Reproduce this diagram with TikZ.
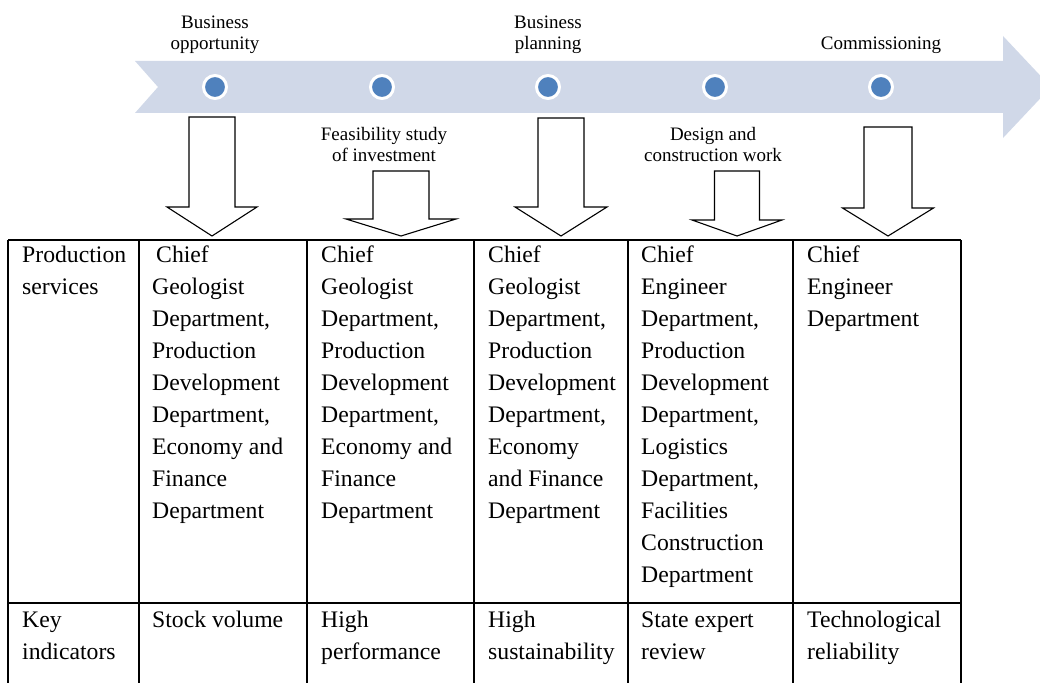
\documentclass[tikz,border=0pt]{standalone}
\usepackage{fontspec}
\setmainfont{Liberation Serif}
\definecolor{bandfill}{RGB}{208,216,232}
\definecolor{dotblue}{RGB}{79,129,189}
\tikzset{
  stage/.style={anchor=north, align=center, inner sep=0pt, font=\fontsize{19}{21}\selectfont},
  stagedot/.style={circle, fill=dotblue, draw=white, line width=3pt, minimum size=23pt, inner sep=0pt},
  blockarrow/.style={draw, fill=white, line width=1.1pt, line join=miter},
  cell/.style={anchor=north west, align=left, inner sep=0pt, font=\fontsize{23.7}{32}\selectfont},
  rule/.style={line width=1.6pt}
}
\begin{document}
\begin{tikzpicture}[x=1pt, y=-1pt]
	\useasboundingbox (0,0) rectangle (1040,682);
	\clip (0,0) rectangle (1040,682);
	% time line band with its arrow head
	\fill[bandfill] (135,61) -- (1003,61) -- (1003,36) -- (1051,87) -- (1003,138) -- (1003,113) -- (135,113) -- (158,87) -- cycle;
	\foreach \x [count=\i] in {215,382,548,715,881}
		\node[stagedot] (dot\i) at (\x,87) {};
	% stage names
	\node[stage] (opp) at (215,13.3) {\strut Business\\opportunity};
	\node[stage] (plan) at (548,13.3) {\strut Business\\planning};
	\node[stage] (comm) at (881,34.3) {\strut Commissioning};
	\node[stage] (feas) at (384,125.3) {\strut Feasibility study\\of investment};
	\node[stage] (design) at (713,125.3) {\strut Design and\\construction work};
	% block arrows down to the table: centre, shaft, head, top, neck
	\foreach \cx/\sh/\hh/\top/\neck in {212/23/45/117/207, 401/28/55/171/219, 561/23/46/118/207, 737/22.5/45/171/220, 888/24/45.5/127/208}
		\draw[blockarrow] (\cx-\sh,\top) -- (\cx+\sh,\top) -- (\cx+\sh,\neck) -- (\cx+\hh,\neck) -- (\cx,236) -- (\cx-\hh,\neck) -- (\cx-\sh,\neck) -- cycle;
	% table rules
	\draw[rule] (8,240) -- (961,240);
	\draw[rule] (8,603) -- (961,603);
	\foreach \x in {8,139,307,474,628,793,961}
		\draw[rule] (\x,240) -- (\x,690);
	% services row
	\node[cell] (serv0) at (22,239.6) {\strut Production\\services};
	\node[cell] (serv1) at (152,239.6) {\strut\hspace{4pt}Chief\\Geologist\\Department,\\Production\\Development\\Department,\\Economy and\\Finance\\Department};
	\node[cell] (serv2) at (321,239.6) {\strut Chief\\Geologist\\Department,\\Production\\Development\\Department,\\Economy and\\Finance\\Department};
	\node[cell] (serv3) at (488,239.6) {\strut Chief\\Geologist\\Department,\\Production\\Development\\Department,\\Economy\\and Finance\\Department};
	\node[cell] (serv4) at (641,239.6) {\strut Chief\\Engineer\\Department,\\Production\\Development\\Department,\\Logistics\\Department,\\Facilities\\Construction\\Department};
	\node[cell] (serv5) at (807,239.6) {\strut Chief\\Engineer\\Department};
	% indicators row
	\foreach \x/\txt [count=\i from 0] in {22/{Key\\indicators}, 152/{Stock volume}, 321/{High\\performance}, 488/{High\\sustainability}, 641/{State expert\\review}, 807/{Technological\\reliability}}
		\node[cell] (key\i) at (\x,604.6) {\strut\txt};
\end{tikzpicture}
\end{document}
